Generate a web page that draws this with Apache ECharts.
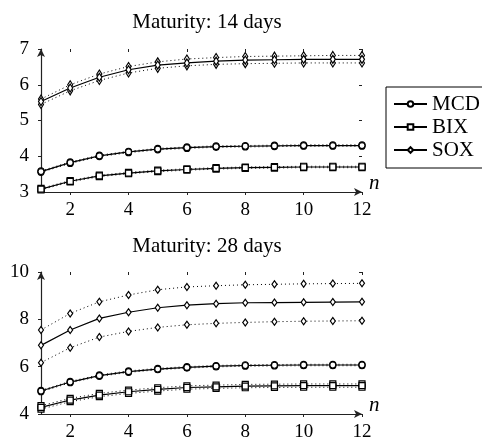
<!DOCTYPE html>
<html>
<head>
<meta charset="utf-8">
<script src="https://cdn.jsdelivr.net/npm/echarts@6/dist/echarts.min.js"></script>
</head>
<body style="margin:0">
<div id="chart" style="width:482px;height:442px"></div>
<script>
var nValues = [1, 2, 3, 4, 5, 6, 7, 8, 9, 10, 11, 12];
var xTicks = [2, 4, 6, 8, 10, 12];

// maturity 14 days
var mcd14   = [3.57, 3.82, 4.01, 4.12, 4.20, 4.24, 4.27, 4.28, 4.29, 4.30, 4.30, 4.30];
var mcd14Hi = [3.59, 3.84, 4.03, 4.14, 4.22, 4.26, 4.29, 4.30, 4.31, 4.32, 4.32, 4.32];
var mcd14Lo = [3.55, 3.80, 3.99, 4.10, 4.18, 4.22, 4.25, 4.26, 4.27, 4.28, 4.28, 4.28];
var bix14   = [3.08, 3.30, 3.45, 3.53, 3.59, 3.63, 3.66, 3.68, 3.69, 3.70, 3.70, 3.70];
var bix14Hi = [3.10, 3.32, 3.47, 3.55, 3.61, 3.65, 3.68, 3.70, 3.71, 3.72, 3.72, 3.72];
var bix14Lo = [3.06, 3.28, 3.43, 3.51, 3.57, 3.61, 3.64, 3.66, 3.67, 3.68, 3.68, 3.68];
var sox14   = [5.53, 5.91, 6.21, 6.42, 6.55, 6.61, 6.66, 6.69, 6.70, 6.71, 6.71, 6.71];
var sox14Hi = [5.60, 6.00, 6.30, 6.51, 6.64, 6.72, 6.76, 6.79, 6.80, 6.81, 6.82, 6.82];
var sox14Lo = [5.45, 5.83, 6.12, 6.33, 6.46, 6.53, 6.57, 6.59, 6.60, 6.61, 6.61, 6.61];

// maturity 28 days
var mcd28   = [4.97, 5.35, 5.62, 5.79, 5.90, 5.97, 6.02, 6.05, 6.06, 6.07, 6.07, 6.07];
var mcd28Hi = [5.00, 5.38, 5.65, 5.82, 5.93, 6.00, 6.05, 6.08, 6.09, 6.10, 6.10, 6.10];
var mcd28Lo = [4.94, 5.32, 5.59, 5.76, 5.87, 5.94, 5.99, 6.02, 6.03, 6.04, 6.04, 6.04];
var bix28   = [4.28, 4.59, 4.80, 4.94, 5.04, 5.12, 5.15, 5.18, 5.19, 5.20, 5.20, 5.20];
var bix28Hi = [4.35, 4.66, 4.87, 5.01, 5.11, 5.19, 5.22, 5.25, 5.26, 5.27, 5.27, 5.27];
var bix28Lo = [4.21, 4.52, 4.73, 4.87, 4.97, 5.05, 5.08, 5.11, 5.12, 5.13, 5.13, 5.13];
var sox28   = [6.90, 7.55, 8.04, 8.30, 8.49, 8.60, 8.66, 8.70, 8.71, 8.72, 8.73, 8.74];
var sox28Hi = [7.55, 8.25, 8.74, 9.03, 9.25, 9.37, 9.42, 9.46, 9.48, 9.50, 9.51, 9.52];
var sox28Lo = [6.17, 6.80, 7.25, 7.49, 7.66, 7.77, 7.83, 7.87, 7.90, 7.92, 7.93, 7.94];

var serif = 'Liberation Serif';
var myChart = echarts.init(document.getElementById('chart'));

function pairs(vals) {
    return vals.map(function (v, i) { return [nValues[i], v]; });
}

function line(name, vals, idx, symbol, size, dotted) {
    return {
        name: name,
        type: 'line',
        xAxisIndex: idx * 2,
        yAxisIndex: idx * 2,
        data: pairs(vals),
        symbol: symbol,
        symbolSize: size,
        showSymbol: true,
        z: dotted ? 2 : 3,
        itemStyle: { color: '#fff', borderColor: '#000', borderWidth: 1.2 },
        lineStyle: { color: '#000', width: dotted ? 1 : 1.2, type: dotted ? [1, 3] : 'solid' },
        animation: false
    };
}

function xAxes(idx) {
    return [{
        type: 'value', gridIndex: idx, min: 1, max: 12,
        name: 'n', nameGap: 7,
        nameTextStyle: { fontFamily: serif, fontStyle: 'italic', fontSize: 21, color: '#000', verticalAlign: 'bottom', padding: [0, 0, -2, 0] },
        axisLine: { lineStyle: { color: '#222', width: 1.2 }, symbol: ['none', 'arrow'], symbolSize: [6, 8] },
        axisTick: { customValues: xTicks, length: 3, lineStyle: { color: '#222' } },
        axisLabel: { customValues: xTicks, color: '#000', fontFamily: serif, fontSize: 19, margin: 9 },
        splitLine: { show: false }
    }, {
        type: 'value', gridIndex: idx, min: 1, max: 12,
        axisLine: { show: false },
        axisTick: { customValues: xTicks, inside: true, length: 3, lineStyle: { color: '#222' } },
        axisLabel: { show: false },
        splitLine: { show: false }
    }];
}

function yAxes(idx, min, max, step) {
    return [{
        type: 'value', gridIndex: idx, min: min, max: max, interval: step,
        axisLine: { show: true, lineStyle: { color: '#222', width: 1.2 }, symbol: ['none', 'arrow'], symbolSize: [6, 8] },
        axisTick: { show: true, length: 3, lineStyle: { color: '#222' } },
        axisLabel: { color: '#000', fontFamily: serif, fontSize: 19, margin: 12 },
        splitLine: { show: false }
    }, {
        type: 'value', gridIndex: idx, min: min, max: max, interval: step,
        axisLine: { show: false },
        axisTick: { show: true, inside: true, length: 3, lineStyle: { color: '#222' } },
        axisLabel: { show: false },
        splitLine: { show: false }
    }];
}

var diamond = 'path://M0,-1L0.6,0L0,1L-0.6,0Z';

var option = {
    backgroundColor: '#fff',
    animation: false,
    title: [
        { text: 'Maturity: 14 days', left: 202, top: 7, textAlign: 'center',
          textStyle: { fontFamily: serif, fontWeight: 'normal', fontSize: 21, color: '#000' } },
        { text: 'Maturity: 28 days', left: 202, top: 231, textAlign: 'center',
          textStyle: { fontFamily: serif, fontWeight: 'normal', fontSize: 21, color: '#000' } }
    ],
    legend: {
        data: ['MCD', 'BIX', 'SOX'],
        orient: 'vertical',
        left: 386, top: 87,
        padding: [6, 40, 7, 7],
        itemGap: 1,
        itemWidth: 33, itemHeight: 7,
        borderColor: '#000', borderWidth: 1, borderRadius: 0,
        backgroundColor: '#fff',
        textStyle: { fontFamily: serif, fontSize: 21, lineHeight: 22, color: '#000' }
    },
    grid: [
        { left: 41, right: 120, top: 49, bottom: 250 },
        { left: 41, right: 120, top: 272, bottom: 28 }
    ],
    xAxis: xAxes(0).concat(xAxes(1)),
    yAxis: yAxes(0, 3, 7, 1).concat(yAxes(1, 4, 10, 2)),
    series: [
        line('MCD', mcd14, 0, 'circle', 6, false),
        line('mcd14Hi', mcd14Hi, 0, 'circle', 6, true),
        line('mcd14Lo', mcd14Lo, 0, 'circle', 6, true),
        line('BIX', bix14, 0, 'rect', 6, false),
        line('bix14Hi', bix14Hi, 0, 'rect', 6, true),
        line('bix14Lo', bix14Lo, 0, 'rect', 6, true),
        line('SOX', sox14, 0, diamond, [5, 8], false),
        line('sox14Hi', sox14Hi, 0, diamond, [5, 8], true),
        line('sox14Lo', sox14Lo, 0, diamond, [5, 8], true),
        line('mcd28', mcd28, 1, 'circle', 6, false),
        line('mcd28Hi', mcd28Hi, 1, 'circle', 6, true),
        line('mcd28Lo', mcd28Lo, 1, 'circle', 6, true),
        line('bix28', bix28, 1, 'rect', 6, false),
        line('bix28Hi', bix28Hi, 1, 'rect', 6, true),
        line('bix28Lo', bix28Lo, 1, 'rect', 6, true),
        line('sox28', sox28, 1, diamond, [5, 7], false),
        line('sox28Hi', sox28Hi, 1, diamond, [5, 7], true),
        line('sox28Lo', sox28Lo, 1, diamond, [5, 7], true)
    ]
};

myChart.setOption(option);
</script>
</body>
</html>
